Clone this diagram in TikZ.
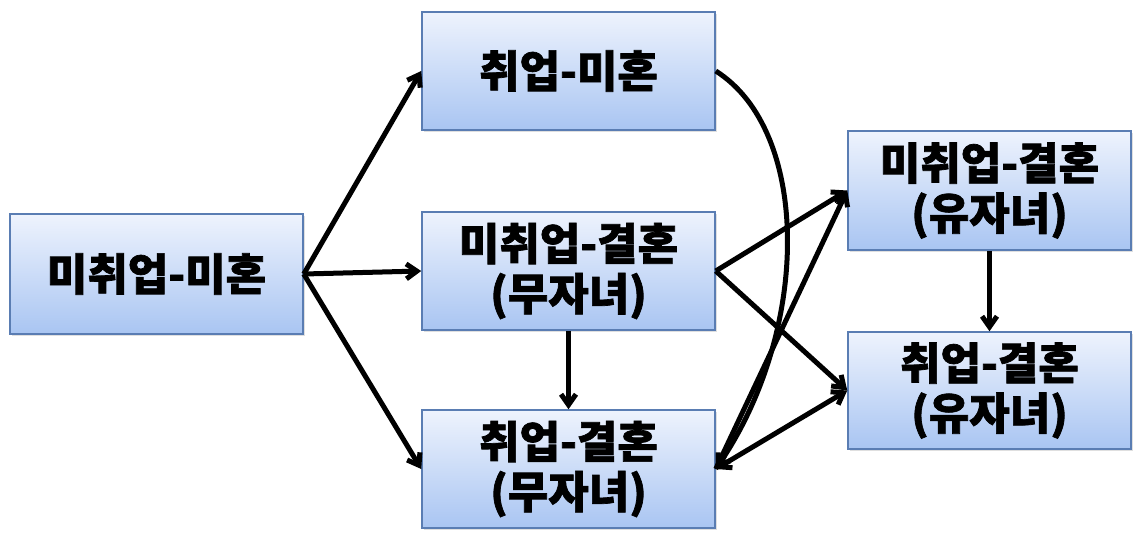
\documentclass[tikz,border=0pt]{standalone}
\usepackage{fontspec}
\newfontfamily\kr{Noto Sans CJK KR}[BoldFeatures={FakeBold=1.6}]
\usetikzlibrary{arrows.meta,shadows}
\definecolor{boxtop}{HTML}{EEF3FD}
\definecolor{boxbot}{HTML}{A9C5F2}
\definecolor{boxline}{HTML}{5A7DB3}
\tikzset{
  statebox/.style={draw=boxline, line width=1.5pt, top color=boxtop, bottom color=boxbot,
    minimum width=#1, align=center, inner sep=0pt,
    font=\kr\bfseries\fontsize{44}{50}\selectfont,
    drop shadow={shadow xshift=2pt, shadow yshift=-2pt, opacity=0.25, fill=gray}},
  conn/.style={line width=5pt, black, -{Straight Barb[angle=70:13pt]}},
  dconn/.style={line width=5pt, black, {Straight Barb[angle=70:13pt]}-{Straight Barb[angle=70:13pt]}},
}
\begin{document}
\begin{tikzpicture}[x=1pt,y=-1pt]
\useasboundingbox (0,0) rectangle (1134,533);
\node[statebox=293pt, minimum height=120pt] (A) at (156.5,274) {미취업-미혼};
\node[statebox=293pt, minimum height=118pt] (B) at (568.5,71) {취업-미혼};
\node[statebox=293pt, minimum height=118pt] (C) at (568.5,271) {미취업-결혼\\(무자녀)};
\node[statebox=293pt, minimum height=118pt] (D) at (568.5,469) {취업-결혼\\(무자녀)};
\node[statebox=283pt, minimum height=119pt] (E) at (989.5,190.5) {미취업-결혼\\(유자녀)};
\node[statebox=283pt, minimum height=117pt] (F) at (989.5,390.5) {취업-결혼\\(유자녀)};
\draw[conn] (A.east) -- (B.west);
\draw[conn] (A.east) -- (C.west);
\draw[conn] (A.east) -- (D.west);
\draw[conn] (C.south) -- (D.north);
\draw[conn] (E.south) -- (F.north);
\draw[conn] (C.east) -- (E.west);
\draw[conn] (C.east) -- (F.west);
\draw[conn] (D.east) -- (E.west);
\draw[dconn] (D.east) -- (F.west);
\draw[conn] (B.east) .. controls +(95,60) and +(95,-140) .. (D.east);
\end{tikzpicture}
\end{document}
